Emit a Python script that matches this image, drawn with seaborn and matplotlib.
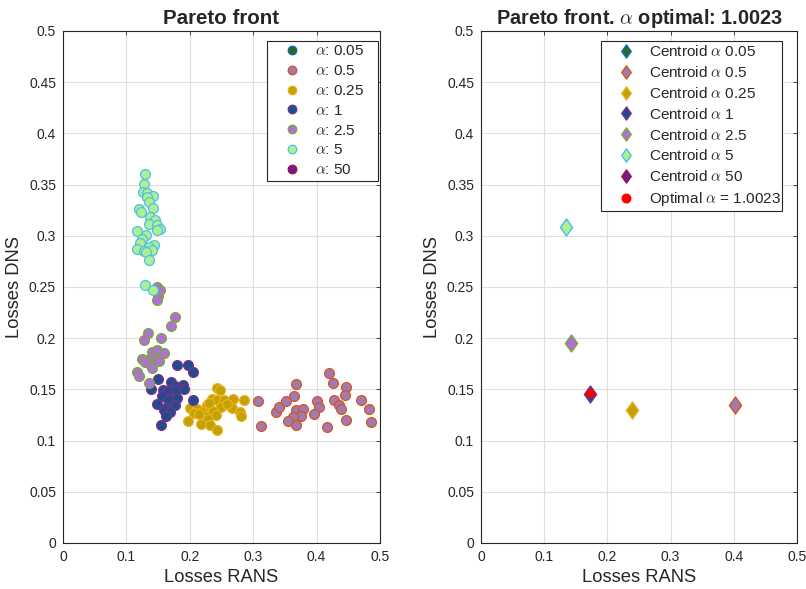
import numpy as np
import pandas as pd
import matplotlib
matplotlib.use("Agg")
import matplotlib.pyplot as plt
from matplotlib.lines import Line2D
from matplotlib.path import Path
import seaborn as sns

# ---------------- data ----------------
alpha_labels = ["0.05", "0.5", "0.25", "1", "2.5", "5", "50"]
face_colors = ["#2b6a1f", "#9f7bb3", "#c2a200", "#1f4d8a", "#b071d6", "#aef08e", "#6b1b96"]
edge_colors = ["#0072BD", "#D95319", "#EDB120", "#7E2F8E", "#77AC30", "#4DBEEE", "#A2142F"]

rans_005 = []
dns_005 = []

rans_05 = [0.308, 0.313, 0.336, 0.340, 0.351, 0.365, 0.368, 0.367, 0.378, 0.375, 0.363, 0.355,
           0.368, 0.400, 0.403, 0.396, 0.420, 0.426, 0.447, 0.445, 0.427, 0.436, 0.438, 0.416,
           0.447, 0.470, 0.482, 0.486]
dns_05 = [0.139, 0.114, 0.128, 0.133, 0.139, 0.144, 0.155, 0.130, 0.131, 0.124, 0.123, 0.119,
          0.115, 0.139, 0.133, 0.126, 0.166, 0.156, 0.152, 0.145, 0.140, 0.135, 0.131, 0.113,
          0.120, 0.140, 0.131, 0.118]

rans_025 = [0.243, 0.247, 0.235, 0.243, 0.254, 0.268, 0.285, 0.227, 0.249, 0.267, 0.201, 0.212,
            0.220, 0.236, 0.206, 0.224, 0.241, 0.279, 0.280, 0.197, 0.228, 0.218, 0.232, 0.243,
            0.231, 0.258, 0.214]
dns_025 = [0.151, 0.149, 0.141, 0.140, 0.140, 0.141, 0.140, 0.135, 0.133, 0.132, 0.132, 0.131,
           0.128, 0.129, 0.127, 0.124, 0.125, 0.128, 0.124, 0.119, 0.121, 0.116, 0.115, 0.110,
           0.137, 0.136, 0.126]

rans_1 = [0.180, 0.197, 0.205, 0.150, 0.170, 0.177, 0.189, 0.139, 0.158, 0.166, 0.179, 0.191,
          0.169, 0.180, 0.156, 0.166, 0.205, 0.149, 0.177, 0.163, 0.160, 0.169, 0.163, 0.155]
dns_1 = [0.174, 0.174, 0.167, 0.160, 0.157, 0.153, 0.154, 0.150, 0.149, 0.148, 0.149, 0.150,
         0.142, 0.142, 0.144, 0.140, 0.140, 0.136, 0.135, 0.132, 0.130, 0.128, 0.124, 0.115]

rans_25 = [0.148, 0.153, 0.150, 0.149, 0.177, 0.171, 0.134, 0.127, 0.155, 0.140, 0.148, 0.160,
           0.124, 0.132, 0.142, 0.152, 0.137, 0.129, 0.140, 0.117, 0.120, 0.135]
dns_25 = [0.250, 0.247, 0.241, 0.237, 0.221, 0.212, 0.205, 0.198, 0.200, 0.187, 0.188, 0.186,
          0.180, 0.179, 0.180, 0.178, 0.175, 0.177, 0.171, 0.167, 0.163, 0.156]

rans_5 = [0.129, 0.127, 0.126, 0.132, 0.142, 0.132, 0.135, 0.120, 0.123, 0.142, 0.138, 0.145,
          0.136, 0.148, 0.153, 0.149, 0.116, 0.131, 0.124, 0.121, 0.144, 0.135, 0.116, 0.127,
          0.140, 0.131, 0.136, 0.129, 0.142]
dns_5 = [0.360, 0.351, 0.343, 0.342, 0.339, 0.338, 0.333, 0.326, 0.323, 0.327, 0.318, 0.315,
         0.312, 0.311, 0.307, 0.306, 0.305, 0.301, 0.297, 0.293, 0.291, 0.289, 0.287, 0.285,
         0.286, 0.284, 0.276, 0.252, 0.247]

rans_50 = []
dns_50 = []

centroid_rans = [np.nan, 0.402, 0.239, 0.172, 0.142, 0.134, np.nan]
centroid_dns = [np.nan, 0.135, 0.130, 0.1455, 0.195, 0.309, np.nan]

optimal_alpha = "1.0023"
optimal_rans = [0.173]
optimal_dns = [0.146]

x_ticks = [0, 0.1, 0.2, 0.3, 0.4, 0.5]
y_ticks = [0, 0.05, 0.1, 0.15, 0.2, 0.25, 0.3, 0.35, 0.4, 0.45, 0.5]

series_rans = [rans_005, rans_05, rans_025, rans_1, rans_25, rans_5, rans_50]
series_dns = [dns_005, dns_05, dns_025, dns_1, dns_25, dns_5, dns_50]

rows = []
for lab, xs, ys in zip(alpha_labels, series_rans, series_dns):
    for x, y in zip(xs, ys):
        rows.append({"alpha": lab, "RANS": x, "DNS": y})
df = pd.DataFrame(rows)

cent_df = pd.DataFrame({"alpha": alpha_labels, "RANS": centroid_rans, "DNS": centroid_dns})

# MATLAB-like diamond (taller than wide)
diamond = Path([(0, 1), (0.72, 0), (0, -1), (-0.72, 0), (0, 1)],
               [Path.MOVETO, Path.LINETO, Path.LINETO, Path.LINETO, Path.CLOSEPOLY])

# ---------------- style ----------------
sns.set_theme(style="white")
plt.rcParams["font.family"] = ["Liberation Sans", "DejaVu Sans"]
plt.rcParams["mathtext.fontset"] = "cm"

fig = plt.figure(figsize=(8.06, 5.89), dpi=100)
ax1 = fig.add_axes([63 / 806, 1 - 543 / 589, 317 / 806, 512 / 589])
ax2 = fig.add_axes([481 / 806, 1 - 543 / 589, 316 / 806, 512 / 589])

for ax in (ax1, ax2):
    ax.set_xlim(0, 0.5)
    ax.set_ylim(0, 0.5)
    ax.set_xticks(x_ticks)
    ax.set_yticks(y_ticks)
    ax.set_xticklabels([f"{t:g}" for t in x_ticks])
    ax.set_yticklabels([f"{t:g}" for t in y_ticks])
    ax.grid(True, color="#dfdfdf", linewidth=0.8)
    ax.set_axisbelow(True)
    for sp in ax.spines.values():
        sp.set_color("#262626")
        sp.set_linewidth(0.8)
    ax.tick_params(direction="in", length=3, width=0.6, colors="#262626",
                   labelsize=10, top=True, right=True, labelcolor="#262626", pad=5)

leg_kw = dict(loc="upper right", mode="expand", fontsize=11, frameon=True, fancybox=False,
              framealpha=1, edgecolor="#262626", borderaxespad=0, labelspacing=0.38,
              handletextpad=0.1, handlelength=2.8, borderpad=0.22)

# ---- left: pareto front ----
handles1 = []
for lab, fc, ec in zip(alpha_labels, face_colors, edge_colors):
    sub = df[df["alpha"] == lab]
    if len(sub):
        sns.scatterplot(data=sub, x="RANS", y="DNS", ax=ax1, color=fc, edgecolor=ec,
                        linewidth=0.9, s=50, legend=False, zorder=3)
    handles1.append(Line2D([], [], linestyle="none", marker="o", markersize=6.2,
                           markerfacecolor=fc, markeredgecolor=ec, markeredgewidth=0.9,
                           label=r"$\alpha$: " + lab))
ax1.set_xlabel("Losses RANS", fontsize=13.2, color="#262626", labelpad=4)
ax1.set_ylabel("Losses DNS", fontsize=13.2, color="#262626", labelpad=4)
ax1.set_title("Pareto front", fontsize=14.8, fontweight="bold", pad=5)
leg1 = ax1.legend(handles=handles1,
                  bbox_to_anchor=(204 / 317, 0, 111 / 317, 1 - 10 / 512), **leg_kw)
leg1.get_frame().set_linewidth(0.8)

# ---- right: centroids ----
handles2 = []
for i, (lab, fc, ec) in enumerate(zip(alpha_labels, face_colors, edge_colors)):
    sub = cent_df.iloc[[i]].dropna()
    if len(sub):
        sns.scatterplot(data=sub, x="RANS", y="DNS", ax=ax2, color=fc, edgecolor=ec,
                        marker=diamond, linewidth=1.0, s=150, legend=False, zorder=3)
    handles2.append(Line2D([], [], linestyle="none", marker=diamond, markersize=9.5,
                           markerfacecolor=fc, markeredgecolor=ec, markeredgewidth=1.0,
                           label=r"Centroid $\alpha$ " + lab))
opt_df = pd.DataFrame({"RANS": optimal_rans, "DNS": optimal_dns})
sns.scatterplot(data=opt_df, x="RANS", y="DNS", ax=ax2, color="#ff0000", edgecolor="#ff0000",
                marker="o", s=36, legend=False, zorder=4)
handles2.append(Line2D([], [], linestyle="none", marker="o", markersize=6.2,
                       markerfacecolor="#ff0000", markeredgecolor="#ff0000",
                       label=r"Optimal $\alpha$ = " + optimal_alpha))
ax2.set_xlabel("Losses RANS", fontsize=13.2, color="#262626", labelpad=4)
ax2.set_ylabel("Losses DNS", fontsize=13.2, color="#262626", labelpad=4)
ax2.set_title(r"Pareto front. $\alpha$ optimal: " + optimal_alpha, fontsize=14.3,
              fontweight="bold", pad=5)
leg2 = ax2.legend(handles=handles2,
                  bbox_to_anchor=(120 / 316, 0, 181 / 316, 1 - 10 / 512), **leg_kw)
leg2.get_frame().set_linewidth(0.8)

fig.savefig("out.png", dpi=100)
